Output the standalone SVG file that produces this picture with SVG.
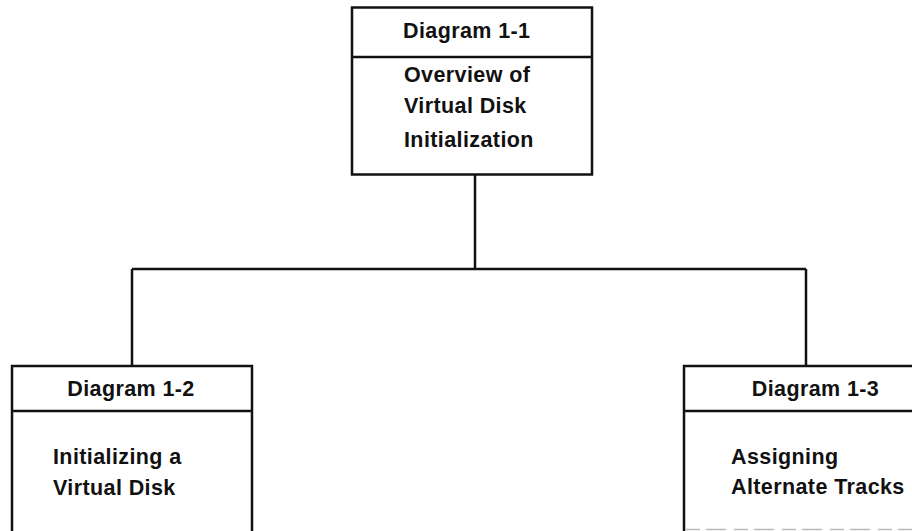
<svg xmlns="http://www.w3.org/2000/svg" width="912" height="531" viewBox="0 0 912 531">
<style>
.box{fill:none;stroke:#111;stroke-width:2.5}
.sep{stroke:#111;stroke-width:2.5}
.con{fill:none;stroke:#111;stroke-width:2.5}
text{font-family:"Liberation Sans",Arial,sans-serif;font-weight:bold;font-size:21.5px;letter-spacing:0.4px;fill:#111}
.faint{stroke:#bbb;stroke-width:1.5;stroke-dasharray:14 6 20 8}
</style>
<rect width="912" height="531" fill="#fff"/>
<g id="connectors">
<path class="con" d="M475 175 V269 M132 269 H806 M132 269 V366 M806 269 V366"/>
</g>
<g id="node-1-1">
<rect class="box" x="352" y="7.5" width="240" height="167"/>
<line class="sep" x1="352" y1="57" x2="592" y2="57"/>
<text x="403" y="38">Diagram 1-1</text>
<text x="404" y="82">Overview of</text>
<text x="404" y="113">Virtual Disk</text>
<text x="404" y="147">Initialization</text>
</g>
<g id="node-1-2">
<path class="box" d="M12 531 V366 H252 V531"/>
<line class="sep" x1="12" y1="411" x2="252" y2="411"/>
<text x="131" y="396" text-anchor="middle">Diagram 1-2</text>
<text x="53" y="464">Initializing a</text>
<text x="53" y="495">Virtual Disk</text>
</g>
<g id="node-1-3">
<path class="box" d="M684 531 V366 H914"/>
<line class="sep" x1="684" y1="411" x2="914" y2="411"/>
<line class="faint" x1="686" y1="529.5" x2="912" y2="529.5"/>
<text x="815.5" y="396" text-anchor="middle">Diagram 1-3</text>
<text x="731" y="464">Assigning</text>
<text x="731" y="494">Alternate Tracks</text>
</g>
</svg>
